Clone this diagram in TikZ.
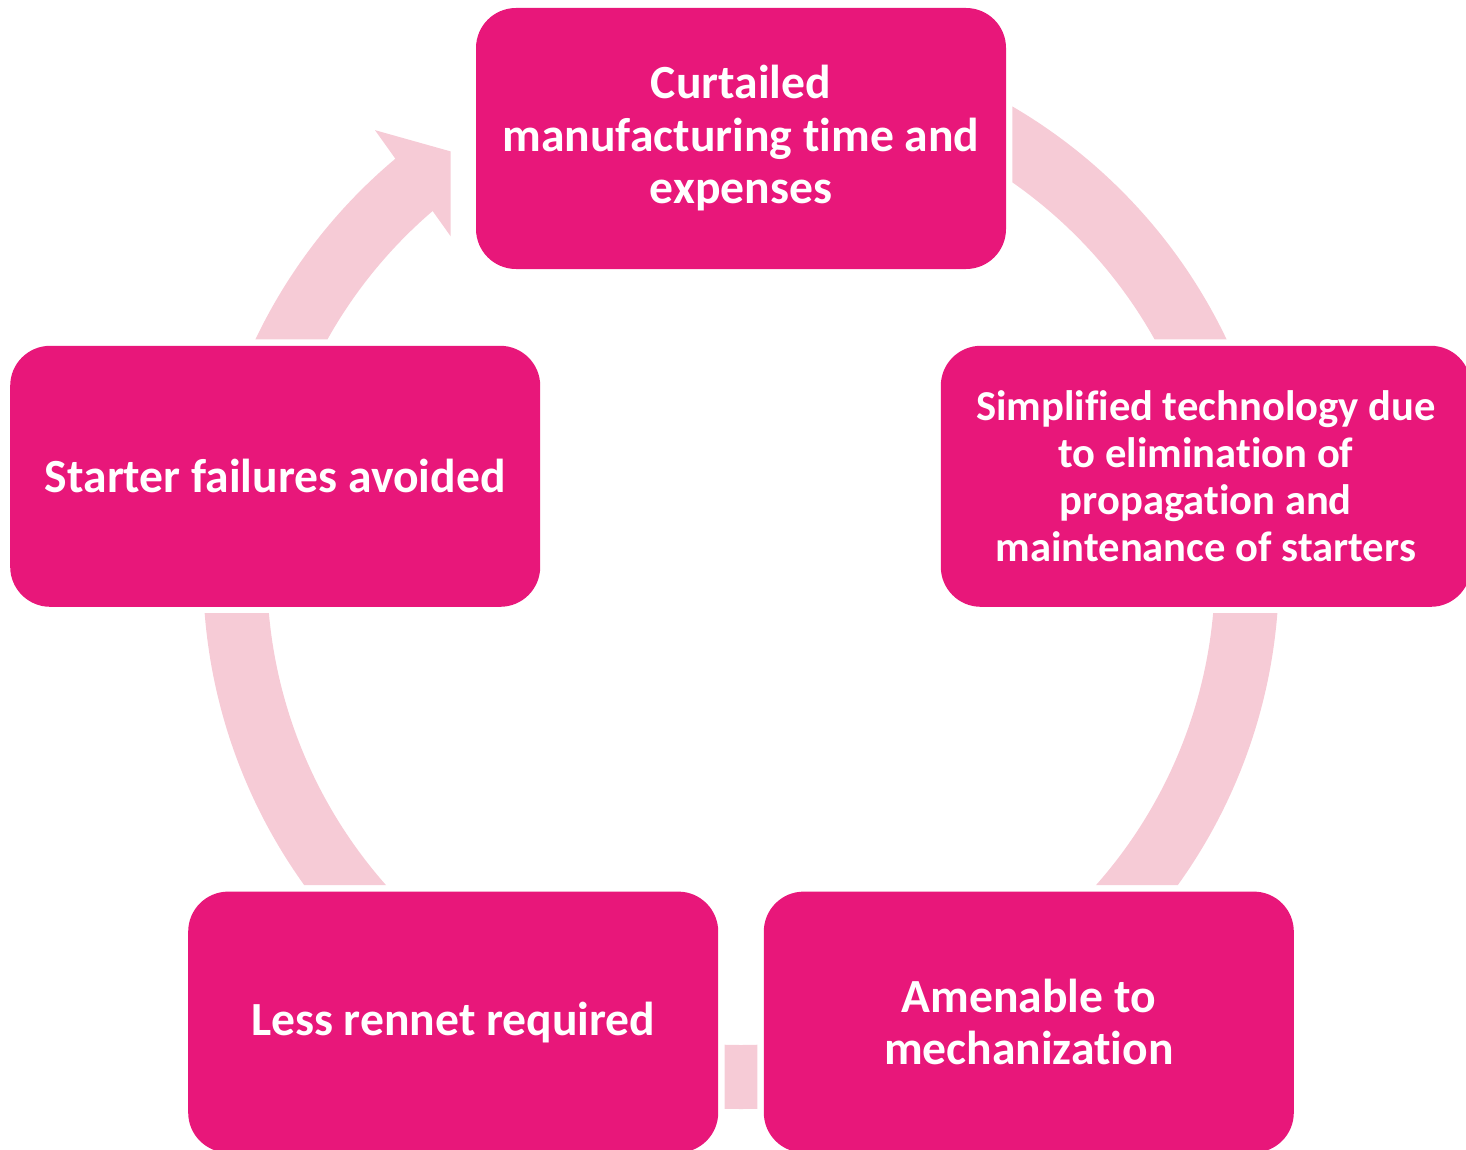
\documentclass[tikz,border=0pt]{standalone}
\usepackage{fontspec}
\setmainfont[Ligatures=NoCommon]{Carlito}
\usepackage{tikz}
\usetikzlibrary{positioning,calc}
\definecolor{boxmag}{HTML}{E8177A}
\definecolor{ringpink}{HTML}{F6CBD6}

\begin{document}
\begin{tikzpicture}[x=0.5pt,y=0.5pt,
  stage/.style={fill=boxmag, rounded corners=20pt, minimum width=265pt, minimum height=130.5pt, inner sep=0pt, align=center, text=white, font=\bfseries\fontsize{23.8}{26.25}\selectfont},
  ring/.style={draw=ringpink, line width=32pt}]
\useasboundingbox (0,0) rectangle (1466,-1150);
\node [stage] (top) at (741,-138.5) {Curtailed\\ manufacturing time and\\ expenses}; \node [stage, below left=38pt and -32.5pt of top.south west] (left) {Starter failures avoided}; \node [stage, font=\bfseries\fontsize{21.3}{23.5}\selectfont, below right=38pt and -33pt of top.south east] (right) {Simplified technology due\\ to elimination of\\ propagation and\\ maintenance of starters};
\node [stage, below right=142pt and 89pt of left.south west] (rennet) {Less rennet required}; \node [stage, below left=142pt and 88.5pt of right.south east] (mech) {Amenable to\\ mechanization};
\coordinate (hub) at (741,-571);
\begin{scope}[even odd rule]
\clip (-50,50) rectangle (1520,-1200) ($(top.south west)+(-25,-6)$) rectangle ($(top.north east)+(6,6)$) ($(right.south west)+(-6,-6)$) rectangle ($(right.north east)+(6,6)$) ($(left.south west)+(-6,-6)$) rectangle ($(left.north east)+(6,6)$) ($(rennet.south west)+(-6,-6)$) rectangle ($(rennet.north east)+(6,6)$) ($(mech.south west)+(-6,-6)$) rectangle ($(mech.north east)+(6,6)$);
\draw [ring] (hub) ++(75:506) arc[start angle=75, end angle=15, radius=506]; \draw [ring] (hub) ++(0:506) arc[start angle=0, end angle=-60, radius=506]; \draw [ring] (hub) ++(-70:506) arc[start angle=-70, end angle=-110, radius=506]; \draw [ring] (hub) ++(-120:506) arc[start angle=-120, end angle=-180, radius=506];
\draw [ring] (hub) ++(180:506) arc[start angle=180, end angle=129, radius=506]; \fill [ringpink] ($(hub)+(129.7:573)$) -- ($(hub)+(123.8:501)$) -- ($(hub)+(131.2:423)$) -- cycle;
\end{scope}
\end{tikzpicture}
\end{document}
